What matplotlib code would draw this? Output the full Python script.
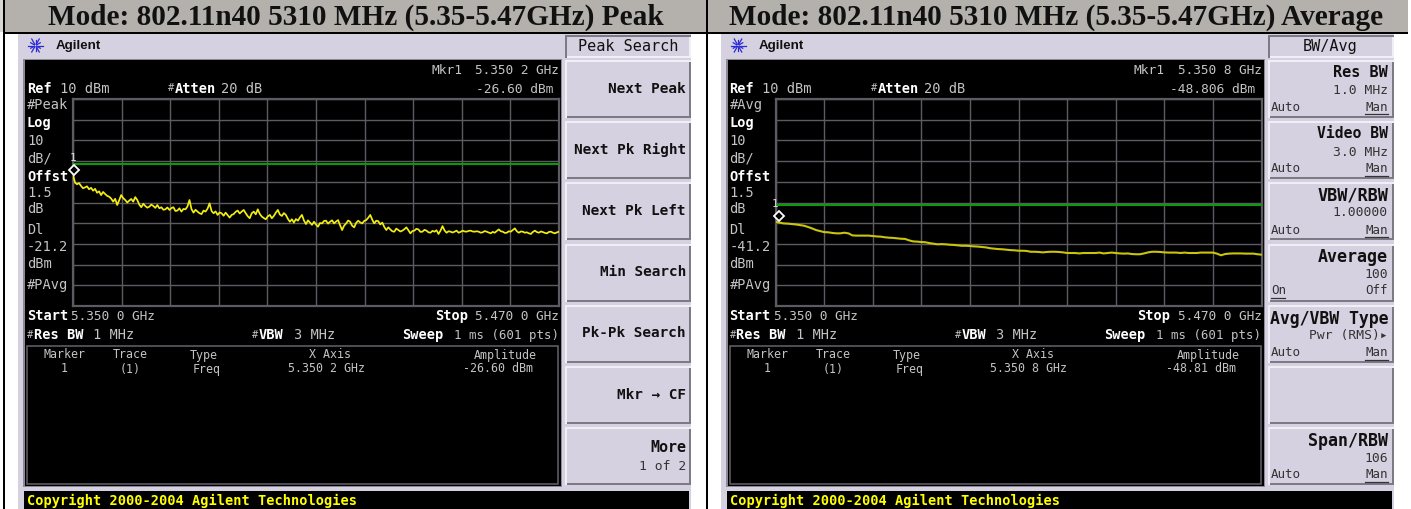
import numpy as np
import matplotlib
matplotlib.use("Agg")
import matplotlib.pyplot as plt
from matplotlib.patches import Rectangle
from matplotlib.transforms import offset_copy

W, H = 1411, 509

# ---- data -------------------------------------------------------------
start_ghz, stop_ghz = 5.350, 5.470
ref_dbm, bottom_dbm = 10, -90
peak_display_line = -21.2
avg_display_line = -41.2
peak_marker = (5.3502, -26.60)
avg_marker = (5.3508, -48.806)

peak_trace = [-26.6, -30.4, -31.2, -30.6, -32.0, -33.1, -32.7, -32.2, -33.6, -32.9, -34.3, -33.4, -35.3, -34.6,
              -36.4, -34.9, -35.9, -36.8, -37.2, -38.1, -39.6, -38.2, -41.2, -38.9, -36.4, -37.9, -38.8, -40.0,
              -39.1, -38.3, -39.6, -37.4, -38.8, -41.0, -42.3, -40.6, -41.7, -42.5, -42.0, -41.0, -41.7, -42.6,
              -41.2, -42.8, -42.3, -43.5, -43.3, -42.4, -43.6, -42.7, -42.3, -44.1, -43.9, -42.8, -44.4, -43.1,
              -43.3, -41.9, -38.8, -43.2, -44.9, -43.5, -44.4, -45.2, -45.6, -43.9, -44.4, -43.0, -40.4, -44.1,
              -45.2, -44.3, -46.0, -44.8, -45.2, -46.4, -44.9, -46.1, -47.3, -46.0, -45.6, -44.5, -43.9, -45.3,
              -44.4, -43.6, -45.2, -46.6, -47.6, -45.2, -44.4, -45.7, -43.3, -45.5, -46.8, -47.5, -48.1, -46.7,
              -46.0, -47.6, -46.5, -44.9, -43.6, -45.8, -46.5, -45.1, -46.0, -47.9, -49.3, -48.1, -49.7, -48.0,
              -48.8, -47.2, -46.0, -48.7, -50.4, -48.6, -49.7, -50.8, -49.3,
              -50.6, -51.7, -49.9, -50.1, -48.9, -48.8, -50.2, -49.3, -48.6, -50.1, -49.2, -48.5, -51.0, -53.3,
              -51.2, -50.1, -48.7, -49.3, -51.2, -52.0, -49.8, -48.8, -49.6, -50.1, -48.9, -48.5, -47.4, -46.0,
              -48.3, -50.1, -48.8, -49.0, -50.6, -49.7, -51.8, -53.3, -52.0, -53.0, -53.9, -54.1, -52.6, -53.3,
              -54.0, -53.6, -52.9, -52.0, -53.4, -54.9, -53.8, -53.6, -52.7, -53.0, -54.2, -54.1, -53.2, -53.6,
              -54.4, -54.6, -53.7, -54.1, -53.4, -55.2, -53.6, -51.4, -53.5, -54.6, -53.9, -54.1, -54.5, -54.1,
              -53.6, -54.6, -54.2, -53.6, -54.0, -54.1, -53.7, -53.6, -54.0, -54.1, -53.9, -54.1, -54.6, -54.4,
              -53.8, -54.1, -54.5, -54.9, -54.2, -54.6, -53.8, -53.0, -53.9, -54.1, -54.7, -54.6, -53.9, -54.1,
              -53.3, -52.5, -53.9, -54.6, -54.0, -54.1, -54.6, -54.4, -54.9, -55.2, -54.2, -53.6, -54.3, -54.6,
              -54.0, -54.3, -54.7, -54.9, -54.2, -54.1, -54.6, -54.9, -54.4, -54.1]

avg_trace = [-49.3, -49.7, -50.1, -50.2, -50.4, -50.6, -50.9, -51.2, -51.8, -52.5, -53.3, -53.8, -54.3,
             -54.4, -54.7, -54.9, -54.9, -54.6, -54.9, -55.9, -56.0, -56.0, -56.0, -56.0, -56.2, -56.4,
             -56.5, -56.8, -57.0, -57.1, -57.3, -57.5, -57.6, -58.3, -58.8, -58.9, -59.1, -59.2, -59.6,
             -59.9, -60.2, -60.1, -60.2, -60.4, -60.5, -60.7, -60.9, -60.9, -61.0, -61.2, -61.3, -61.5,
             -61.7, -62.1, -62.3, -62.5, -62.6, -62.8, -63.0, -63.1, -63.3, -63.3,
             -63.4, -63.8, -63.8, -63.9, -64.1, -63.9, -63.8, -63.8, -63.9, -64.1, -64.4, -64.4, -64.4,
             -64.6, -64.4, -64.4, -64.4, -64.4, -64.2, -64.6, -64.4, -64.2, -64.4, -64.6, -64.7, -64.6,
             -64.9, -65.0, -65.0, -64.6, -64.1, -63.8, -63.8, -63.9, -64.1, -64.2, -64.2, -64.2, -64.4,
             -64.2, -64.4, -64.4, -64.4, -64.2, -64.2, -64.2, -64.2, -64.7, -65.5, -64.9, -64.7, -64.6,
             -64.6, -64.6, -64.7, -64.7, -64.7, -65.0, -65.2]

titles = ["Mode: 802.11n40 5310 MHz (5.35-5.47GHz) Peak",
          "Mode: 802.11n40 5310 MHz (5.35-5.47GHz) Average"]
peak_keys = ["Next Peak", "Next Pk Right", "Next Pk Left", "Min Search", "Pk-Pk Search", "Mkr → CF"]

# ---- style ------------------------------------------------------------
BAND = "#b4b1ad"
LAV = "#d6d1e0"
LIGHT = "#f1eff5"
DARK = "#7d7a86"
GRID = "#5d5a62"
TXT = "#c4c4c4"
MONO = "DejaVu Sans Mono"

fig = plt.figure(figsize=(W / 100, H / 100), dpi=100, facecolor="white")
bg = fig.add_axes([0, 0, 1, 1])
bg.set_xlim(0, W)
bg.set_ylim(H, 0)
bg.axis("off")


def rect(x0, y0, x1, y1, c, z=1):
    bg.add_patch(Rectangle((x0, y0), x1 - x0, y1 - y0, fc=c, ec="none", zorder=z))


def t(x, y, s, size=9.8, c=TXT, w="normal", ha="left", fam=MONO):
    bg.text(x, y - 1.5, s, fontsize=size, color=c, fontweight=w, ha=ha, va="center_baseline", family=fam, zorder=6)


def key(x0, y0, x1, y1, pressed=False):
    a, b = (DARK, LIGHT) if pressed else (LIGHT, DARK)
    rect(x0, y0, x1, y1, a, 2)
    rect(x0 + 2, y0 + 2, x1, y1, b, 2)
    rect(x0 + 2, y0 + 2, x1 - 2, y1 - 2, LAV, 3)


def window(dx, mode, marker_lbl, amp_long, amp_short, dl, menu):
    rect(18 + dx, 34, 691 + dx, 509, LAV, 1)
    rect(23 + dx, 59, 562 + dx, 487, "#8d8a96", 2)
    rect(25 + dx, 60, 561 + dx, 486, "black", 3)
    # star logo
    cx, cy = 35.5 + dx, 45.5
    for ang in np.arange(0, 360, 30):
        r = 7.5 if ang % 60 == 0 else 5.5
        bg.plot([cx + 1.5 * np.cos(np.radians(ang)), cx + r * np.cos(np.radians(ang))],
                [cy + 1.5 * np.sin(np.radians(ang)), cy + r * np.sin(np.radians(ang))],
                color="#2a2ad8", lw=0.9, zorder=5)
    t(56 + dx, 46, "Agilent", 9.6, "#111111", "bold", fam="Liberation Sans")
    # status rows
    t(27 + dx, 88.5, "Ref", c="white", w="bold")
    t(60 + dx, 88.5, "10 dBm")
    t(168 + dx, 88.5, "#", 7.5)
    t(175 + dx, 88.5, "Atten", c="white", w="bold")
    t(221 + dx, 88.5, "20 dB")
    t(431 + dx, 70, "Mkr1", 9.3)
    t(559 + dx, 70, marker_lbl, 9.2, ha="right")
    t(553 + dx, 89, amp_long, 9.3, ha="right")
    for y, s, b in [(105, mode, False), (123, "Log", True), (141, "10", False), (159, "dB/", False),
                    (177, "Offst", True), (193, "1.5", False), (209, "dB", False), (230, "Dl", False),
                    (247, dl, False), (264, "dBm", False), (285, "#PAvg", False)]:
        t(27 + dx, y, s, c="white" if b else TXT, w="bold" if b else "normal")
    t(27 + dx, 316, "Start", c="white", w="bold")
    t(71 + dx, 316, "5.350 0 GHz", 9.2)
    t(27 + dx, 335, "#", 7.5)
    t(34 + dx, 335, "Res BW", c="white", w="bold")
    t(93 + dx, 335, "1 MHz")
    t(252 + dx, 335, "#", 7.5)
    t(259 + dx, 335, "VBW", c="white", w="bold")
    t(294 + dx, 335, "3 MHz")
    t(435 + dx, 316, "Stop", c="white", w="bold")
    t(559 + dx, 316, "5.470 0 GHz", 9.2, ha="right")
    t(402 + dx, 335, "Sweep", c="white", w="bold")
    t(559 + dx, 335, "1 ms (601 pts)", 8.9, ha="right")
    # marker table
    bg.add_patch(Rectangle((27 + dx, 346), 531, 138, fc="none", ec=GRID, lw=1.2, zorder=4))
    for x, s1 in [(44, "Marker"), (113, "Trace"), (190, "Type"), (309, "X Axis"), (474, "Amplitude")]:
        t(x + dx, 355, s1, 8.4)
    t(61 + dx, 369, "1", 8.4)
    t(120 + dx, 369, "(1)", 8.4)
    t(193 + dx, 369, "Freq", 8.4)
    t(288 + dx, 369, marker_lbl, 8.4)
    t(463 + dx, 369, amp_short, 8.4)
    # copyright
    rect(24 + dx, 491, 689 + dx, 509, "black", 3)
    t(27 + dx, 501, "Copyright 2000-2004 Agilent Technologies", 9.78, "#ffff00", "bold")
    # menu
    key(565 + dx, 35, 691 + dx, 58, pressed=True)
    t(628 + dx, 46, menu, 11, "#111111", "normal", ha="center")
    for y0 in [60, 121, 182, 244, 305, 366, 427]:
        key(565 + dx, y0, 691 + dx, y0 + 58)


def trace(dx, values, display, marker, colour, lw):
    ax = fig.add_axes([(73 + dx) / W, 1 - 306 / H, 486 / W, 207 / H], facecolor="black", zorder=4)
    ax.set_xlim(start_ghz, stop_ghz)
    ax.set_ylim(bottom_dbm, ref_dbm)
    ax.set_xticks(np.linspace(start_ghz, stop_ghz, 11))
    ax.set_yticks(np.linspace(bottom_dbm, ref_dbm, 11))
    ax.grid(True, color=GRID, lw=1.0)
    ax.set_axisbelow(True)
    ax.tick_params(length=0, labelbottom=False, labelleft=False)
    for s in ax.spines.values():
        s.set_color(GRID)
        s.set_linewidth(1.6)
    ax.axhline(display, color="#0a9a0a", lw=1.5, zorder=3)
    ax.plot(np.linspace(start_ghz, stop_ghz, len(values)), values, color=colour, lw=lw, zorder=4, clip_on=True)
    off = offset_copy(ax.transData, fig=fig, x=0, y=4.5, units="dots")
    ax.plot([marker[0]], [marker[1]], marker="D", ms=5, mfc="black", mec="white", mew=1.3,
            transform=off, clip_on=False, zorder=5)
    off2 = offset_copy(ax.transData, fig=fig, x=0, y=16.5, units="dots")
    ax.text(start_ghz, marker[1], "1", color="#dddddd", fontsize=8, family=MONO, ha="center", va="center",
            transform=off2, clip_on=False, zorder=5)


# title bands
rect(4, 0, 1408, 32, BAND, 1)
rect(0, 0, 4, 32, "#d8d6d3", 1)
rect(3, 0, 5, 509, "black", 5)
rect(4, 32, 1408, 34, "black", 5)
rect(706, 0, 708, 509, "black", 5)
t(355.5, 16, titles[0], 21.1, "#111111", "bold", "center", "Liberation Serif")
t(1056.5, 16, titles[1], 21.1, "#111111", "bold", "center", "Liberation Serif")

DX = 702.5
window(0, "#Peak", "5.350 2 GHz", "-26.60 dBm", "-26.60 dBm", "-21.2", "Peak Search")
window(DX, "#Avg", "5.350 8 GHz", "-48.806 dBm", "-48.81 dBm", "-41.2", "BW/Avg")
trace(0, peak_trace, peak_display_line, peak_marker, "#f2ee10", 1.25)
trace(DX, avg_trace, avg_display_line, avg_marker, "#c9c40c", 1.5)

# left soft keys
KEY = "#111111"
for y, s in zip([89, 150, 211, 272, 333, 395], peak_keys):
    t(686, y, s, 10.4, KEY, "bold", "right")
t(686, 447, "More", 10.8, KEY, "bold", "right")
t(686, 466, "1 of 2", 9.4, "#333333", "normal", "right")


# right soft keys
def softkey(y0, head, size, sub, left="Auto", right="Man", under_right=True):
    X = 1388
    t(X, y0, head, size, KEY, "bold", "right")
    if sub:
        t(X, y0 + 18, sub, 9.4, "#333333", "normal", "right")
    t(1271, y0 + 35, left, 9.0, "#333333")
    t(X, y0 + 35, right, 9.0, "#333333", ha="right")
    if under_right:
        bg.plot([X - 23, X], [y0 + 42, y0 + 42], color="#333333", lw=0.9, zorder=6)
    else:
        bg.plot([1271, 1285], [y0 + 42, y0 + 42], color="#333333", lw=0.9, zorder=6)


softkey(72, "Res BW", 11, "1.0 MHz")
softkey(134, "Video BW", 10.6, "3.0 MHz")
softkey(195, "VBW/RBW", 12.2, "1.00000")
softkey(256, "Average", 12, "100", "On", "Off", under_right=False)
softkey(318, "Avg/VBW Type", 11.9, "Pwr (RMS)▸")
softkey(440, "Span/RBW", 12, "106")

fig.savefig("out.png", dpi=100, facecolor="white")
